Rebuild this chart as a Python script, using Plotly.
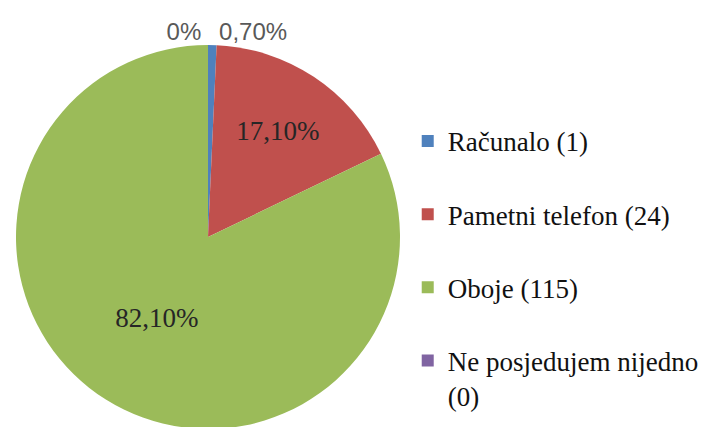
import plotly.graph_objects as go

categories = ["Računalo (1)", "Pametni telefon (24)", "Oboje (115)", "Ne posjedujem nijedno<br>(0)"]
values = [1, 24, 115, 0]
pct_labels = ["0,70%", "17,10%", "82,10%", "0%"]
colors = ["#4F81BD", "#C0504D", "#9BBB59", "#8064A2"]

# prazni red ispod stavke da legenda ima razmak kao u originalu
legend_labels = [c + "<br> " if i < 3 else c for i, c in enumerate(categories)]

fig = go.Figure(go.Pie(
    labels=legend_labels,
    values=values,
    text=pct_labels,
    textinfo="text",
    textposition=["outside", "inside", "inside", "outside"],
    sort=False,
    direction="clockwise",
    rotation=0,
    marker=dict(colors=colors, line=dict(width=0)),
    insidetextfont=dict(family="Liberation Serif, serif", size=27, color="#262626"),
    outsidetextfont=dict(family="Liberation Sans, Arial, sans-serif", size=24, color="#595959"),
    insidetextorientation="horizontal",
    domain=dict(x=[8 / 710, 392 / 710], y=[6 / 427, 390 / 427]),
    hoverinfo="label+percent",
))

fig.update_layout(
    width=710,
    height=427,
    margin=dict(l=0, r=0, t=0, b=0, autoexpand=False),
    paper_bgcolor="white",
    plot_bgcolor="white",
    showlegend=True,
    legend=dict(
        x=0.563, y=0.745, xanchor="left", yanchor="top",
        valign="top",
        font=dict(family="Liberation Serif, serif", size=27, color="#111111"),
        bgcolor="rgba(0,0,0,0)",
    ),
)

fig.write_html("out.html")
